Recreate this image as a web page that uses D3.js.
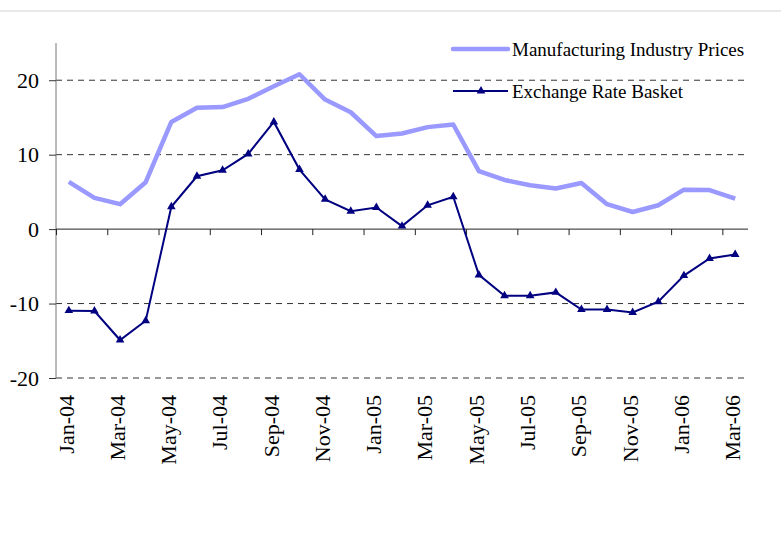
<!DOCTYPE html>
<html>
<head>
<meta charset="utf-8">
<script src="https://cdn.jsdelivr.net/npm/d3@7"></script>
<style>
  body { margin: 0; background: #fff; }
  svg { display: block; font-family: 'Liberation Serif', 'Times New Roman', serif; }
  svg text { font-family: 'Liberation Serif', 'Times New Roman', serif; }
</style>
</head>
<body>
<div id="app"></div>
<script>
(function (d3) {
  'use strict'

  const months = ['Jan-04', 'Feb-04', 'Mar-04', 'Apr-04', 'May-04', 'Jun-04', 'Jul-04', 'Aug-04', 'Sep-04',
    'Oct-04', 'Nov-04', 'Dec-04', 'Jan-05', 'Feb-05', 'Mar-05', 'Apr-05', 'May-05', 'Jun-05', 'Jul-05',
    'Aug-05', 'Sep-05', 'Oct-05', 'Nov-05', 'Dec-05', 'Jan-06', 'Feb-06', 'Mar-06']

  const manufacturing = [6.35, 4.2, 3.35, 6.3, 14.4, 16.3, 16.4, 17.5, 19.2, 20.8, 17.4, 15.7, 12.5,
    12.85, 13.7, 14.05, 7.8, 6.6, 5.9, 5.45, 6.2, 3.35, 2.3, 3.2, 5.3, 5.25, 4.1]

  const exchangeRate = [-10.95, -11.0, -14.9, -12.3, 3.0, 7.1, 7.9, 10.1, 14.4, 8.0, 4.0, 2.4, 2.9,
    0.4, 3.2, 4.35, -6.15, -8.95, -8.95, -8.5, -10.8, -10.8, -11.2, -9.75, -6.25, -3.95, -3.4]

  const yTicks = [-20, -10, 0, 10, 20]
  const seriesNames = ['Manufacturing Industry Prices', 'Exchange Rate Basket']

  const width = 781
  const height = 534
  const margin = { top: 43, left: 56, right: 33, bottom: 156 }
  const w = width - margin.left - margin.right
  const h = height - margin.top - margin.bottom

  const root = d3.select('#app').append('svg')
    .attr('width', width)
    .attr('height', height)

  // light strip at the very top
  root.append('rect')
    .attr('x', 0).attr('y', 10)
    .attr('width', width).attr('height', 2)
    .style('fill', '#e8e8e8')

  const svg = root.append('g')
    .attr('transform', 'translate(' + margin.left + ',' + margin.top + ')')

  const x = d3.scaleBand()
    .domain(months)
    .range([0, w])
    .padding(0)

  // boundaries between categories, used for the tick marks
  const xEdge = d3.scaleLinear()
    .domain([0, months.length])
    .range([0, w])

  const y = d3.scaleLinear()
    .domain([-20, 25])
    .range([h, 0])

  // dashed gridlines
  svg.append('g')
    .selectAll('line')
    .data(yTicks.filter(function (d) { return d !== 0 }))
    .enter()
    .append('line')
    .attr('x1', 0)
    .attr('x2', w)
    .attr('y1', function (d) { return y(d) })
    .attr('y2', function (d) { return y(d) })
    .style('stroke', '#333')
    .style('stroke-width', 1)
    .style('stroke-dasharray', '6,5')

  // y axis
  const yAxis = d3.axisLeft(y).tickValues(yTicks).tickSize(7).tickFormat(function (d) { return String(d) })
  const gy = svg.append('g').call(yAxis)
  gy.select('.domain').style('stroke', '#777').attr('d', 'M0,' + h + 'V0')
  gy.selectAll('.tick line').style('stroke', '#333')
  gy.selectAll('.tick text')
    .attr('x', -17)
    .attr('dy', '0.33em')
    .style('font-size', '22px')
    .style('fill', '#000')

  // category axis at zero
  const xTicks = d3.axisBottom(xEdge)
    .tickValues(d3.range(0, months.length + 1, 2))
    .tickSize(6)
    .tickFormat('')
  const gx = svg.append('g')
    .attr('transform', 'translate(0,' + y(0) + ')')
    .call(xTicks)
  gx.select('.domain').style('stroke', '#222').attr('d', 'M0,0H' + w)
  gx.selectAll('.tick line').style('stroke', '#222')

  // month labels below the plot
  const xLabels = d3.axisBottom(x)
    .tickValues(months.filter(function (d, i) { return i % 2 === 0 }))
    .tickSize(0)
  const gl = svg.append('g')
    .attr('transform', 'translate(0,' + h + ')')
    .call(xLabels)
  gl.select('.domain').remove()
  gl.selectAll('.tick text')
    .attr('transform', 'rotate(-90)')
    .attr('x', -17)
    .attr('y', 0)
    .attr('dy', '0.22em')
    .attr('text-anchor', 'end')
    .style('font-size', '22px')
    .style('fill', '#000')

  const line = d3.line()
    .x(function (d, i) { return x(months[i]) + x.bandwidth() / 2 })
    .y(function (d) { return y(d) })

  svg.append('path')
    .datum(manufacturing)
    .attr('d', line)
    .style('fill', 'none')
    .style('stroke', '#9999ff')
    .style('stroke-width', 4.5)
    .style('stroke-linejoin', 'round')

  svg.append('path')
    .datum(exchangeRate)
    .attr('d', line)
    .style('fill', 'none')
    .style('stroke', '#000080')
    .style('stroke-width', 2)

  const tri = d3.symbol().type(d3.symbolTriangle).size(32)

  svg.selectAll('.marker')
    .data(exchangeRate)
    .enter()
    .append('path')
    .attr('class', 'marker')
    .attr('d', tri)
    .attr('transform', function (d, i) {
      return 'translate(' + (x(months[i]) + x.bandwidth() / 2) + ',' + y(d) + ')'
    })
    .style('fill', '#000080')

  // legend
  const legend = root.append('g')
    .attr('transform', 'translate(453,49)')

  legend.append('line')
    .attr('x1', 0).attr('x2', 55)
    .attr('y1', 0).attr('y2', 0)
    .style('stroke', '#9999ff')
    .style('stroke-width', 4.5)
    .style('stroke-linecap', 'round')

  legend.append('line')
    .attr('x1', 0).attr('x2', 55)
    .attr('y1', 42).attr('y2', 42)
    .style('stroke', '#000080')
    .style('stroke-width', 2)

  legend.append('path')
    .attr('d', tri)
    .attr('transform', 'translate(28,42)')
    .style('fill', '#000080')

  legend.selectAll('text')
    .data(seriesNames)
    .enter()
    .append('text')
    .attr('x', 59)
    .attr('y', function (d, i) { return i * 42 })
    .attr('dy', '0.38em')
    .style('font-size', '19px')
    .style('fill', '#000')
    .text(function (d) { return d })

})(d3)
</script>
</body>
</html>
